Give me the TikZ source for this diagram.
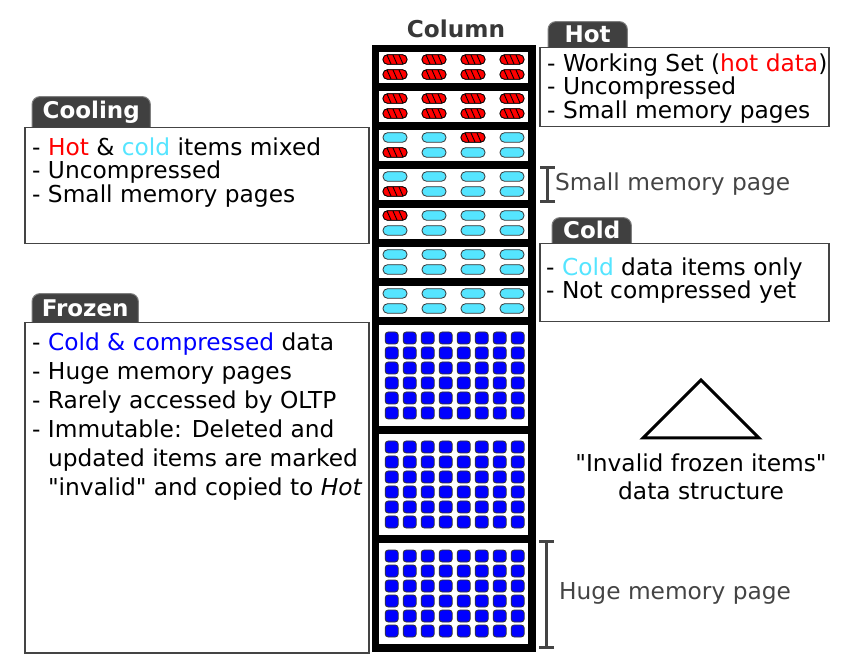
\documentclass[tikz,border=0pt]{standalone}
\usepackage{fontspec}
\setmainfont{DejaVu Sans}
\usepackage{tikz}
\usetikzlibrary{positioning, backgrounds, arrows.meta}
\definecolor{tab-gray}{HTML}{404040}
\definecolor{frame-gray}{HTML}{444444}
\definecolor{cold-cyan}{HTML}{55E5FF}
\definecolor{hot-red}{HTML}{FF0000}
\definecolor{frozen-blue}{HTML}{0000FF}

\begin{document}
\begin{tikzpicture}[x=1pt, y=-1pt,
	box/.style={draw=frame-gray, line width=1.5pt, fill=white, anchor=north west, inner sep=0pt},
	txt/.style={anchor=north west, align=left, inner sep=0pt, font=\fontsize{23.3}{23.5}\selectfont},
	tab/.style={anchor=south west, inner sep=0pt, text=white, font=\fontsize{23}{26}\selectfont\bfseries, minimum height=25pt},
	tabshape/.style={fill=tab-gray, draw=gray, line width=1pt, rounded corners=8pt},
	hotitem/.style={fill=hot-red, draw=black, line width=0.8pt, rounded corners=4.5pt},
	colditem/.style={fill=cold-cyan, draw=black!80, line width=0.8pt, rounded corners=4.5pt},
	frozenitem/.style={fill=frozen-blue, draw=black!80, line width=0.8pt, rounded corners=3pt},
	hotpill/.pic={
		\draw[hotitem] (-12,-4.75) rectangle (12,4.75);
		\foreach \s in {-6,0,6}
			\draw[line width=0.9pt] (\s-2,-4.5) -- (\s+2,4.5);
	},
	bracket/.style={draw=frame-gray, line width=3pt, {Bar[width=15pt]}-{Bar[width=15pt]}},
	note/.style={anchor=west, inner sep=0pt, text=frame-gray, font=\fontsize{23.3}{23.5}\selectfont}]
	\useasboundingbox (0,0) rectangle (847,668);

	% the column and its pages
	\node[font=\fontsize{23.2}{27}\selectfont\bfseries, text=black!78] (column) at (456,29) {Column};
	\fill (372,45) rectangle (536,652);
	\foreach \p in {0,...,6}
		\fill[white] (379,52+39*\p) rectangle (528,83+39*\p);
	\foreach \f in {0,1,2}
		\fill[white] (379,325+109*\f) rectangle (528,426+109*\f);

	% small pages: cold items first, hot ones on top
	\foreach \p in {0,...,6}
		\foreach \r in {0,1}
			\foreach \c in {0,...,3}
				\draw[colditem] (383+39*\c,54.75+39*\p+15*\r) rectangle ++(24,9.5);
	\foreach \p in {0,1}
		\foreach \r in {0,1}
			\foreach \c in {0,...,3}
				\pic at (395+39*\c,59.5+39*\p+15*\r) {hotpill};
	\foreach \p/\r/\c in {2/0/2, 2/1/0, 3/1/0, 4/0/0}
		\pic at (395+39*\c,59.5+39*\p+15*\r) {hotpill};

	% huge pages
	\foreach \f in {0,1,2}
		\foreach \r in {0,...,5}
			\foreach \c in {0,...,7}
				\draw[frozenitem] (385.2+18*\c,332+109*\f+15*\r) rectangle ++(13,12);

	% boxes
	\node[box, minimum width=289pt, minimum height=79pt] (hot) at (539,47) {};
	\node[box, minimum width=344pt, minimum height=116pt] (cooling) at (24,127) {};
	\node[box, minimum width=289pt, minimum height=78pt] (cold) at (539,243) {};
	\node[box, minimum width=344pt, minimum height=330pt] (frozen) at (24,322) {};

	\node[tab, minimum width=79pt, above right=0pt and 9pt of hot.north west] (hottab) {Hot};
	\node[tab, minimum width=118pt, minimum height=30pt, above right=0pt and 8pt of cooling.north west] (coolingtab) {Cooling};
	\node[tab, minimum width=79pt, above right=0pt and 13pt of cold.north west] (coldtab) {Cold};
	\node[tab, minimum width=106pt, minimum height=28pt, above right=0pt and 8pt of frozen.north west] (frozentab) {Frozen};
	\begin{scope}[on background layer]
		\foreach \t in {hottab, coolingtab, coldtab, frozentab}
			\filldraw[tabshape] (\t.north west) rectangle ([yshift=-10pt]\t.south east);
	\end{scope}

	\node[txt] (hottext) at ([shift={(8,6.5)}]hot.north west) {- Working Set (\textcolor{hot-red}{hot data})\\- Uncompressed\\- Small memory pages};
	\node[txt] (coolingtext) at ([shift={(8,10.5)}]cooling.north west) {- \textcolor{hot-red}{Hot} \& \textcolor{cold-cyan}{cold} items mixed\\- Uncompressed\\- Small memory pages};
	\node[txt] (coldtext) at ([shift={(7,14.5)}]cold.north west) {- \textcolor{cold-cyan}{Cold} data items only\\- Not compressed yet};
	\node[txt, font=\fontsize{23.3}{29}\selectfont] (frozentext) at ([shift={(8,10.5)}]frozen.north west) {- \textcolor{frozen-blue}{Cold \& compressed} data\\- Huge memory pages\\- Rarely accessed by OLTP\\- Immutable: Deleted and\\\phantom{-}~updated items are marked\\\phantom{-}~\textquotedbl invalid\textquotedbl{} and copied to \textit{Hot}};

	% page size marks
	\coordinate (smalltop) at (547.5,166);
	\coordinate (smallbottom) at (547.5,203);
	\draw[bracket] (smalltop) -- (smallbottom);
	\node[note] (smallnote) at (555,184) {Small memory page};
	\coordinate (hugetop) at (546.5,540);
	\coordinate (hugebottom) at (546.5,649);
	\draw[bracket] (hugetop) -- (hugebottom);
	\node[note] (hugenote) at (559,593) {Huge memory page};

	% invalid items structure
	\draw[line width=3pt, line join=miter] (643,438) -- (701,380) -- (759,438) -- cycle;
	\node[align=center, font=\fontsize{23.3}{28}\selectfont] (invalid) at (701,477) {\textquotedbl Invalid frozen items\textquotedbl\\data structure};
\end{tikzpicture}
\end{document}
